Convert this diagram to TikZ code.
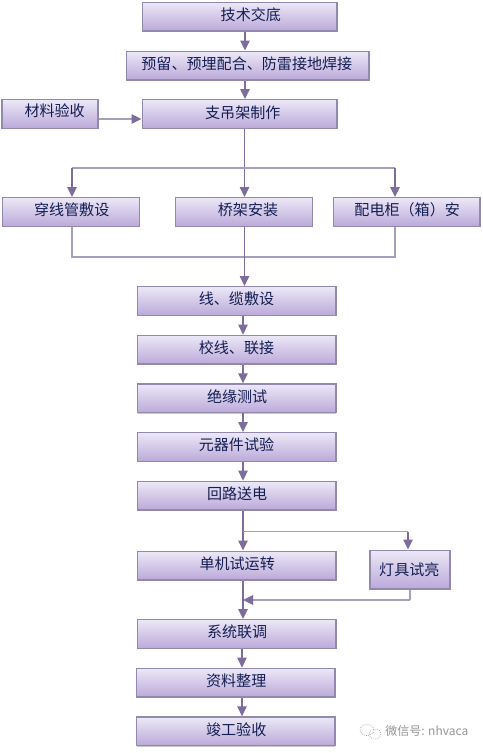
\documentclass[tikz,border=0pt]{standalone}
\usepackage{fontspec}
\setmainfont{Noto Sans CJK SC}
\usetikzlibrary{positioning, arrows.meta, shadows}
\definecolor{boxline}{HTML}{9389AE}
\definecolor{boxtop}{HTML}{ECE8F7}
\definecolor{boxmid}{HTML}{DDD5F0}
\definecolor{boxbot}{HTML}{BBA9D9}
\definecolor{linkline}{HTML}{7E6C9E}
\definecolor{softline}{HTML}{A79DBE}
\definecolor{labelink}{HTML}{141E52}
\definecolor{markgray}{HTML}{969696}
\newcommand{\boxtext}[3]{\hspace*{#1pt}\raisebox{#2pt}{#3}}
\tikzset{
	taskbox/.style={rectangle, draw=boxline, line width=1pt, top color=boxtop, middle color=boxmid, bottom color=boxbot, minimum height=21.5pt, inner sep=0pt, text=labelink, font=\fontsize{11.3}{13}\selectfont, text centered, drop shadow={shadow xshift=0.4pt, shadow yshift=-0.8pt, opacity=0.35, fill=black!60}},
	mainbox/.style={taskbox, minimum width=149pt},
	arrow/.style={-{Triangle[length=7.5pt,width=7pt]}, line width=1.1pt, draw=linkline},
	softarrow/.style={-{Triangle[length=7.5pt,width=7pt,color=linkline]}, line width=1.2pt, draw=softline},
	softlink/.style={line width=1.2pt, draw=softline}
}
\begin{document}
\begin{tikzpicture}[x=0.75pt, y=-0.75pt, node distance=14pt]
	\useasboundingbox (0,0) rectangle (482,753);
	\fill[white] (0,0) rectangle (482,753);

	\node[taskbox, minimum width=146pt] (tech) at (239.5,16.5) {\boxtext{17}{3}{技术交底}};
	\node[taskbox, minimum width=182pt] (embed) at (247.5,65.5) {\boxtext{-1}{3}{预留、预埋配合、防雷接地焊接}};
	\node[taskbox, minimum width=146pt] (hanger) at (239.5,114) {\boxtext{5}{2.4}{支吊架制作}};
	\node[taskbox, minimum width=72pt] (material) at (50,114) {\boxtext{7}{6.5}{材料验收}};

	\node[taskbox, minimum width=103pt] (conduit) at (71,212) {\boxtext{1}{5}{穿线管敷设}};
	\node[taskbox, minimum width=103pt] (tray) at (244,212) {\boxtext{6}{5}{桥架安装}};
	\node[taskbox, minimum width=110pt] (cabinet) at (406.5,212) {\boxtext{1}{5}{配电柜（箱）安}};

	\node[mainbox] (cable) at (236.5,301) {\boxtext{0}{3.6}{线、缆敷设}};
	\node[mainbox, below=of cable] (check) {\boxtext{0}{4.5}{校线、联接}};
	\node[mainbox, below=of check] (insul) {\boxtext{1}{4}{绝缘测试}};
	\node[mainbox, below=of insul] (parts) {\boxtext{0}{4}{元器件试验}};
	\node[mainbox, below=of parts] (loop) {\boxtext{1}{4.5}{回路送电}};
	\node[mainbox] (single) at (236.5,565.5) {\boxtext{1}{4}{单机试运转}};
	\node[taskbox, minimum width=60pt, minimum height=29pt] (lamp) at (410,569.5) {\boxtext{-1}{0.5}{灯具试亮}};
	\node[mainbox] (joint) at (236.5,634) {\boxtext{1}{3.6}{系统联调}};
	\node[mainbox, below=of joint, xshift=-0.7pt] (docs) {\boxtext{1}{3.6}{资料整理}};
	\node[mainbox, below=of docs] (accept) {\boxtext{1}{3.6}{竣工验收}};

	\coordinate (upper) at (245,0);
	\coordinate (trunk) at (244.5,0);
	\coordinate (lower) at (243,0);
	\coordinate (tail) at (242,0);
	\coordinate (splitl) at (72,168);
	\coordinate (splitr) at (395,168);
	\coordinate (mergel) at (72,257);
	\coordinate (merger) at (395,257);
	\coordinate (branch) at (243,531.5);
	\coordinate (branchr) at (408,531.5);
	\coordinate (backr) at (410,600);
	\coordinate (backl) at (243,600);

	\draw[arrow] (tech.south -| upper) -- (embed.north -| upper);
	\draw[arrow] (embed.south -| upper) -- (hanger.north -| upper);
	\draw[softarrow] (material.east |- 0,119) -- (hanger.west |- 0,119);
	\draw[arrow] (hanger.south -| trunk) -- (tray.north -| trunk);
	\draw[softlink] (splitl) -- (splitr);
	\draw[arrow] (splitl) -- (conduit.north -| splitl);
	\draw[arrow] (splitr) -- (cabinet.north -| splitr);
	\draw[softlink] (conduit.south -| mergel) -- (mergel) -- (merger) -- (cabinet.south -| merger);
	\draw[arrow] (tray.south -| trunk) -- (cable.north -| trunk);
	\draw[arrow] (cable.south -| lower) -- (check.north -| lower);
	\draw[arrow] (check.south -| lower) -- (insul.north -| lower);
	\draw[arrow] (insul.south -| lower) -- (parts.north -| lower);
	\draw[arrow] (parts.south -| lower) -- (loop.north -| lower);
	\draw[arrow] (loop.south -| lower) -- (single.north -| lower);
	\draw[softlink] (branch) -- (branchr);
	\draw[arrow] (branchr) -- (lamp.north -| branchr);
	\draw[softlink] (lamp.south -| backr) -- (backr);
	\draw[softarrow] (backr) -- (backl);
	\draw[arrow] (single.south -| lower) -- (joint.north -| lower);
	\draw[arrow] (joint.south -| tail) -- (docs.north -| tail);
	\draw[arrow] (docs.south -| tail) -- (accept.north -| tail);

	% watermark
	\draw[markgray, line width=0.5pt, densely dotted] (367,730) ellipse [x radius=7, y radius=5.5];
	\draw[markgray, line width=0.5pt, densely dotted] (375,734) ellipse [x radius=6, y radius=5];
	\node[text=markgray, font=\fontsize{9}{11}\selectfont, anchor=west, inner sep=0pt] (mark) at (385,731) {微信号: nhvaca};
\end{tikzpicture}
\end{document}
